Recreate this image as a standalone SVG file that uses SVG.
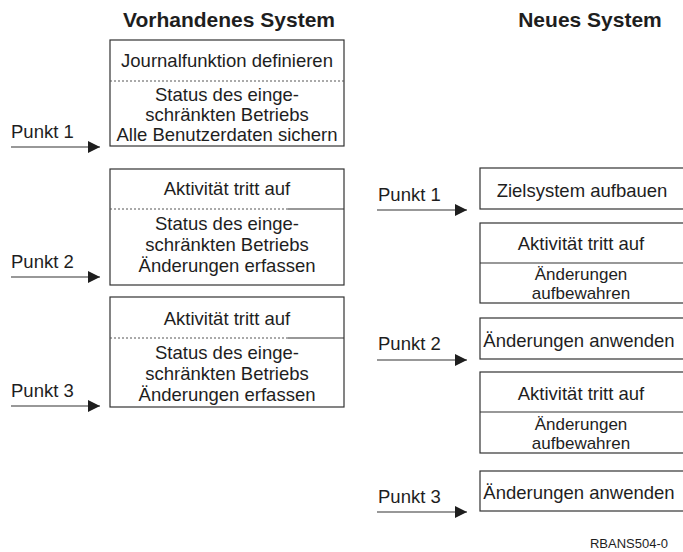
<svg xmlns="http://www.w3.org/2000/svg" width="683" height="552" viewBox="0 0 683 552">
<style>
  text { font-family: "Liberation Sans", Arial, sans-serif; fill: #1e1e1e; }
  .t { font-size: 18.5px; text-anchor: middle; }
  .t2 { font-size: 17px; text-anchor: middle; }
  .lbl { font-size: 18.5px; }
  .title { font-size: 21px; font-weight: bold; text-anchor: middle; }
  .box { fill: #ffffff; stroke: #333333; stroke-width: 1.2; }
  .solid { stroke: #333333; stroke-width: 1.2; fill: none; }
  .dot { stroke: #555555; stroke-width: 1; stroke-dasharray: 2 2; fill: none; }
  .arr { stroke: #333333; stroke-width: 1.2; fill: none; marker-end: url(#ah); }
  .code { font-size: 13px; text-anchor: end; }
</style>
<defs>
  <marker id="ah" markerWidth="12" markerHeight="12" refX="12" refY="6" orient="auto" markerUnits="userSpaceOnUse">
    <path d="M0,0 L12,6 L0,12 Z" fill="#1e1e1e"/>
  </marker>
</defs>
<rect width="683" height="552" fill="#ffffff"/>

<g id="titles">
  <text class="title" x="229" y="27">Vorhandenes System</text>
  <text class="title" x="590" y="27">Neues System</text>
</g>

<!-- Left column -->
<g id="old-box-1">
  <rect class="box" x="110" y="40" width="234" height="106"/>
  <line class="dot" x1="110" y1="81" x2="344" y2="81"/>
  <text class="t" x="227" y="67">Journalfunktion definieren</text>
  <text class="t" x="227" y="101">Status des einge-</text>
  <text class="t" x="227" y="121">schränkten Betriebs</text>
  <text class="t" x="227" y="141">Alle Benutzerdaten sichern</text>
</g>

<g id="old-box-2">
  <rect class="box" x="110" y="169" width="234" height="116"/>
  <line class="dot" x1="110" y1="209" x2="290" y2="209"/>
  <line class="solid" x1="288" y1="209" x2="344" y2="209"/>
  <text class="t" x="227" y="195">Aktivität tritt auf</text>
  <text class="t" x="227" y="230">Status des einge-</text>
  <text class="t" x="227" y="251">schränkten Betriebs</text>
  <text class="t" x="227" y="272">Änderungen erfassen</text>
</g>

<g id="old-box-3">
  <rect class="box" x="110" y="297" width="234" height="110"/>
  <line class="dot" x1="110" y1="338" x2="290" y2="338"/>
  <line class="solid" x1="288" y1="338" x2="344" y2="338"/>
  <text class="t" x="227" y="325">Aktivität tritt auf</text>
  <text class="t" x="227" y="359">Status des einge-</text>
  <text class="t" x="227" y="380">schränkten Betriebs</text>
  <text class="t" x="227" y="401">Änderungen erfassen</text>
</g>

<!-- Right column -->
<g id="new-box-1">
  <rect class="box" x="480" y="168" width="210" height="41"/>
  <text class="t" x="582" y="197">Zielsystem aufbauen</text>
</g>

<g id="new-box-2">
  <rect class="box" x="480" y="223" width="210" height="80"/>
  <line class="solid" x1="480" y1="263" x2="690" y2="263"/>
  <text class="t" x="581" y="250">Aktivität tritt auf</text>
  <text class="t2" x="581" y="280">Änderungen</text>
  <text class="t2" x="581" y="299">aufbewahren</text>
</g>

<g id="new-box-3">
  <rect class="box" x="480" y="318" width="210" height="41"/>
  <text class="t" x="579" y="347">Änderungen anwenden</text>
</g>

<g id="new-box-4">
  <rect class="box" x="480" y="372" width="210" height="81"/>
  <line class="solid" x1="480" y1="412" x2="690" y2="412"/>
  <text class="t" x="581" y="400">Aktivität tritt auf</text>
  <text class="t2" x="581" y="430">Änderungen</text>
  <text class="t2" x="581" y="449">aufbewahren</text>
</g>

<g id="new-box-5">
  <rect class="box" x="480" y="471" width="210" height="40"/>
  <text class="t" x="579" y="499">Änderungen anwenden</text>
</g>

<!-- Labels -->
<g id="labels">
  <text class="lbl" x="11" y="138">Punkt 1</text>
  <text class="lbl" x="11" y="268">Punkt 2</text>
  <text class="lbl" x="11" y="397">Punkt 3</text>
  <text class="lbl" x="378" y="201">Punkt 1</text>
  <text class="lbl" x="378" y="350">Punkt 2</text>
  <text class="lbl" x="378" y="503">Punkt 3</text>
</g>

<g id="connectors">
  <line class="arr" x1="11" y1="147" x2="100" y2="147"/>
  <line class="arr" x1="11" y1="277" x2="100" y2="277"/>
  <line class="arr" x1="11" y1="406" x2="100" y2="406"/>
  <line class="arr" x1="377" y1="210" x2="467" y2="210"/>
  <line class="arr" x1="377" y1="360" x2="467" y2="360"/>
  <line class="arr" x1="377" y1="512" x2="467" y2="512"/>
</g>

<g id="figure-id">
  <text class="code" x="668" y="548">RBANS504-0</text>
</g>
</svg>
